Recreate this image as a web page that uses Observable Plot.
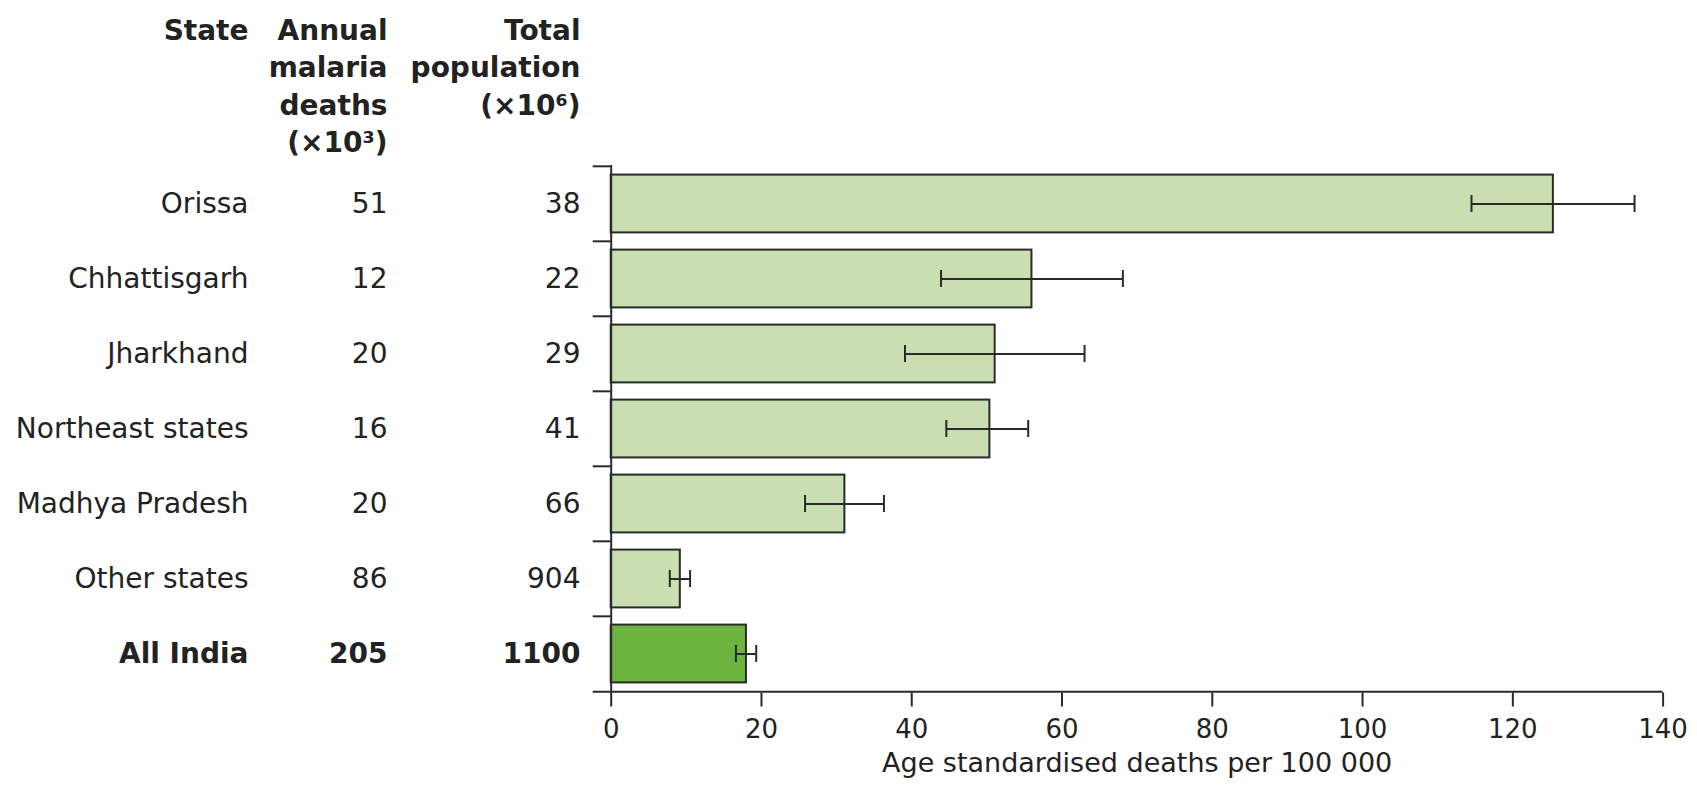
<!DOCTYPE html>
<html>
<head>
<meta charset="utf-8">
<script src="https://cdn.jsdelivr.net/npm/d3@7"></script>
<script src="https://cdn.jsdelivr.net/npm/@observablehq/plot@0.6"></script>
<style>
  html, body { margin: 0; padding: 0; background: #fff; }
  #chart svg { display: block; }
</style>
</head>
<body>
<div id="chart"></div>
<script>
const states = ["Orissa", "Chhattisgarh", "Jharkhand", "Northeast states", "Madhya Pradesh", "Other states", "All India"];
const deaths = [51, 12, 20, 16, 20, 86, 205];
const population = [38, 22, 29, 41, 66, 904, 1100];
const rate = [125.4, 56.0, 51.1, 50.4, 31.1, 9.2, 18.0];
const lower = [114.5, 43.9, 39.1, 44.6, 25.8, 7.8, 16.6];
const upper = [136.2, 68.1, 63.0, 55.5, 36.3, 10.5, 19.3];
const xTicks = [0, 20, 40, 60, 80, 100, 120, 140];
const headers = ["State", "Annual\nmalaria\ndeaths\n(×10³)", "Total\npopulation\n(×10⁶)"];
const xLabel = "Age standardised deaths per 100 000";

const rows = states.map((s, i) => ({
  state: s, deaths: deaths[i], population: population[i],
  rate: rate[i], lo: lower[i], hi: upper[i], total: s === "All India"
}));
const normal = rows.filter(d => !d.total);
const bold = rows.filter(d => d.total);

const W = 1697, H = 790;
const mTop = 165, mBottom = 97.5, mLeft = 610.7, mRight = 34.4;
const bw = (H - mTop - mBottom) / states.length;
const tickLen = 18 / ((W - mLeft - mRight) / 140);

const font = "'DejaVu Sans', sans-serif";
const ink = "#222";
const line = "#2a2a2a";
const colDx = [-362.7, -223.7, -30.7];
const fs = 28;

function columnMarks(data, weight) {
  return [
    Plot.text(data, {y: "state", text: "state", frameAnchor: "left", textAnchor: "end", dx: colDx[0], fontSize: fs, fontWeight: weight, fontFamily: font, fill: ink}),
    Plot.text(data, {y: "state", text: d => String(d.deaths), frameAnchor: "left", textAnchor: "end", dx: colDx[1], fontSize: fs, fontWeight: weight, fontFamily: font, fill: ink}),
    Plot.text(data, {y: "state", text: d => String(d.population), frameAnchor: "left", textAnchor: "end", dx: colDx[2], fontSize: fs, fontWeight: weight, fontFamily: font, fill: ink})
  ];
}

const chart = Plot.plot({
  width: W,
  height: H,
  marginTop: mTop,
  marginBottom: mBottom,
  marginLeft: mLeft,
  marginRight: mRight,
  style: {background: "#fff", color: ink, fontFamily: font},
  x: {domain: [0, 140], axis: null},
  y: {domain: states, padding: 0, axis: null},
  marks: [
    Plot.barX(rows, {
      y: "state", x: "rate",
      fill: d => d.total ? "#6db43f" : "#c9dfb2",
      stroke: line, strokeWidth: 2,
      insetTop: 8.6, insetBottom: 8.6
    }),
    Plot.ruleY(rows, {y: "state", x1: "lo", x2: "hi", stroke: line, strokeWidth: 2}),
    Plot.tickX(rows, {y: "state", x: "lo", stroke: line, strokeWidth: 2, insetTop: 29, insetBottom: 29}),
    Plot.tickX(rows, {y: "state", x: "hi", stroke: line, strokeWidth: 2, insetTop: 29, insetBottom: 29}),
    // band boundary ticks on the category axis
    Plot.ruleY(states, {y: d => d, x1: -tickLen, x2: 0, dy: -bw / 2, stroke: line, strokeWidth: 2}),
    // x axis baseline (extends slightly left)
    Plot.ruleY(["All India"], {y: d => d, x1: -tickLen, x2: 140, dy: bw / 2, stroke: line, strokeWidth: 2}),
    Plot.ruleX([0], {stroke: line, strokeWidth: 2}),
    Plot.axisX({ticks: xTicks, tickSize: 14, tickPadding: 13, fontSize: 26, fontFamily: font, stroke: line, strokeWidth: 2, fill: ink, label: null, tickFormat: d => String(d)}),
    Plot.text([xLabel], {frameAnchor: "bottom", text: d => d, dy: 78.5, fontSize: 27, fontFamily: font, fill: ink}),
    ...columnMarks(normal, "normal"),
    ...columnMarks(bold, "bold"),
    ...headers.map((h, i) => Plot.text([h], {frameAnchor: "top-left", text: d => d, textAnchor: "end", lineAnchor: "top", dx: colDx[i], dy: -152.2, lineHeight: 1.34, fontSize: fs, fontWeight: "bold", fontFamily: font, fill: ink}))
  ]
});
document.getElementById("chart").appendChild(chart);
</script>
</body>
</html>
